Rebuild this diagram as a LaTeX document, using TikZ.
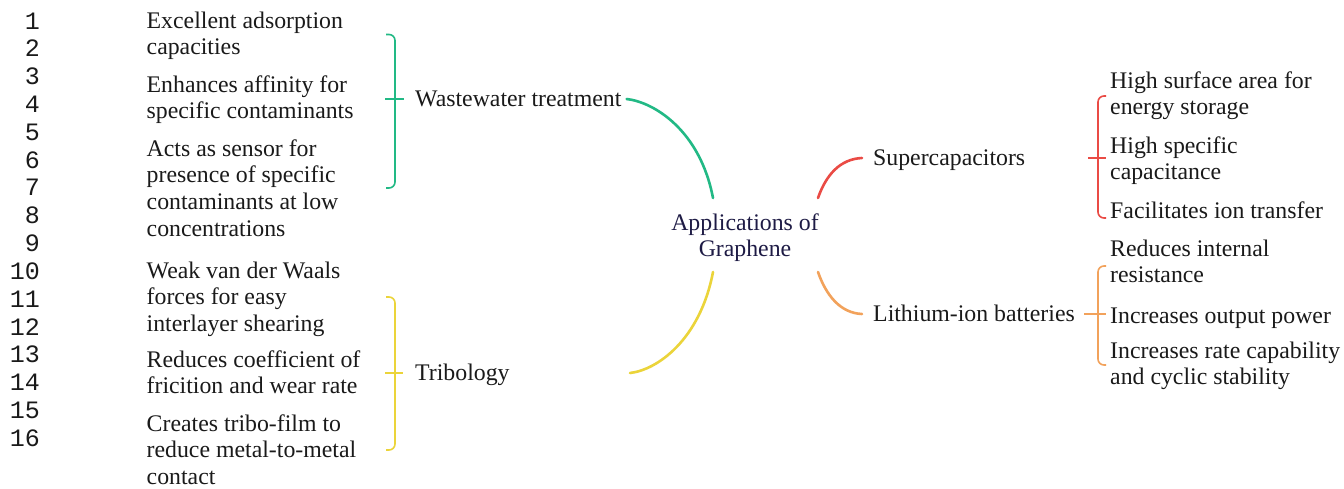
\documentclass[tikz,border=0pt]{standalone}
\usepackage{fontspec}
\setmainfont{LiberationSerif}[Extension=.ttf,UprightFont=*-Regular,BoldFont=*-Bold,ItalicFont=*-Italic,BoldItalicFont=*-BoldItalic]
\newfontfamily\numfont{LiberationMono}[Extension=.ttf,UprightFont=*-Regular]
\definecolor{cgreen}{HTML}{22B985}
\definecolor{cyellow}{HTML}{EBD43A}
\definecolor{cred}{HTML}{EA4B45}
\definecolor{corange}{HTML}{F2A25B}
\definecolor{cnavy}{HTML}{1E1B45}
\definecolor{ctext}{HTML}{1A1A1A}
\begin{document}
\begin{tikzpicture}[x=1pt,y=-1pt,
  item/.style={anchor=north west, inner sep=0pt, align=left, text=ctext, font=\fontsize{23.8}{26.7}\selectfont, execute at begin node=\strut},
  branch/.style={anchor=west, inner sep=0pt, text=ctext, font=\fontsize{23.8}{26.7}\selectfont, text height=18pt, text depth=4pt},
  num/.style={anchor=base east, inner sep=0pt, text=ctext, font=\numfont\fontsize{25}{25}\selectfont},
  curve/.style={line width=2.6pt, line cap=round},
  brk/.style={line width=1.6pt, rounded corners=6pt}]
\fill[white] (0,0) rectangle (1344,488);
\useasboundingbox (0,0) rectangle (1344,488);

% line numbers
\foreach \i in {1,...,16} {
  \node[num] (n\i) at (40,{29+27.83*(\i-1)}) {\i};
}

% centre
\node[anchor=north, inner sep=0pt, align=center, text=cnavy, font=\fontsize{23.8}{26.7}\selectfont, execute at begin node=\strut] (app) at (745,213.3) {Applications of\\Graphene};

% branch labels
\node[branch] (ww) at (415,99) {Wastewater treatment};
\node[branch] (tri) at (415,373) {Tribology};
\node[branch] (sc) at (873,158) {Supercapacitors};
\node[branch] (li) at (873,314) {Lithium-ion batteries};

% items left
\node[item] (w1) at (146.5,11.3) {Excellent adsorption\\capacities};
\node[item] (w2) at (146.5,75.3) {Enhances affinity for\\specific contaminants};
\node[item] (w3) at (146.5,139.3) {Acts as sensor for\\presence of specific\\contaminants at low\\concentrations};
\node[item] (t1) at (146.5,261.3) {Weak van der Waals\\forces for easy\\interlayer shearing};
\node[item] (t2) at (146.5,350.3) {Reduces coefficient of\\fricition and wear rate};
\node[item] (t3) at (146.5,414.3) {Creates tribo-film to\\reduce metal-to-metal\\contact};

% items right
\node[item] (s1) at (1110,71.3) {High surface area for\\energy storage};
\node[item] (s2) at (1110,136.3) {High specific\\capacitance};
\node[item] (s3) at (1110,199.3) {Facilitates ion transfer};
\node[item] (l1) at (1110,239.3) {Reduces internal\\resistance};
\node[item] (l2) at (1110,304.3) {Increases output power};
\node[item] (l3) at (1110,341.3) {Increases rate capability\\and cyclic stability};

% main curves
\draw[curve, cgreen] ([xshift=5pt]ww.east) .. controls +(27,3) and +(-13,-68) .. ([shift={(-32,-15.3)}]app.north);
\draw[curve, cyellow] ([xshift=215pt]tri.west) .. controls +(27,-3) and +(-13,68) .. ([shift={(-32,58.7)}]app.north);
\draw[curve, cred] ([shift={(73,-15.3)}]app.north) .. controls +(8,-23) and +(-22,1) .. ([xshift=-11pt]sc.west);
\draw[curve, corange] ([shift={(73,58.7)}]app.north) .. controls +(8,23) and +(-22,-1) .. ([xshift=-11pt]li.west);

% brackets
\begin{scope}[shift={(ww.west)}]
  \draw[brk, cgreen] (-29,-64.5) -- (-20,-64.5) -- (-20,89) -- (-29,89);
  \draw[cgreen, line width=1.6pt] (-30,0) -- (-11,0);
\end{scope}
\begin{scope}[shift={(tri.west)}]
  \draw[brk, cyellow] (-29,-76) -- (-20,-76) -- (-20,77) -- (-29,77);
  \draw[cyellow, line width=1.6pt] (-30,0) -- (-12,0);
\end{scope}
\begin{scope}[shift={(sc.west)}]
  \draw[brk, cred] (233,-62) -- (225,-62) -- (225,60) -- (233,60);
  \draw[cred, line width=1.6pt] (215,0) -- (233,0);
\end{scope}
\begin{scope}[shift={(li.west)}]
  \draw[brk, corange] (233,-48) -- (225,-48) -- (225,51) -- (233,51);
  \draw[corange, line width=1.6pt] (211,0) -- (233,0);
\end{scope}
\end{tikzpicture}
\end{document}
